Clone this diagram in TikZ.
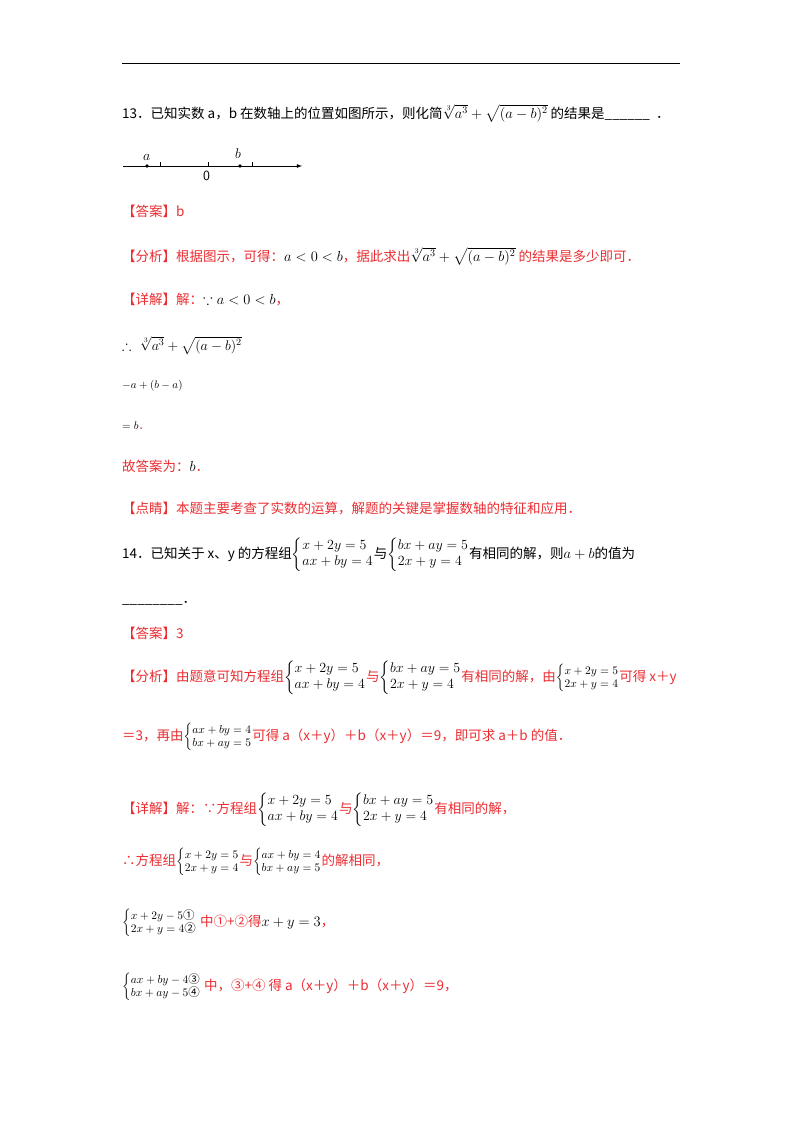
\RequirePackage{fix-cm}
\documentclass[tikz,border=0pt]{standalone}
\usepackage{amsmath,amssymb}
\usepackage{fontspec}
\newfontfamily\cjk{Noto Sans CJK SC}
\definecolor{rd}{RGB}{235,45,50}
\begin{document}
\begin{tikzpicture}[x=1pt,y=-1pt,
  t/.style={anchor=base west,inner sep=0pt,font=\cjk\fontsize{13.5}{16}\selectfont},
  r/.style={t,text=rd},
  sm/.style={anchor=base west,inner sep=0pt,font=\fontsize{14}{16}\selectfont}]
\useasboundingbox[fill=white] (0,0) rectangle (800,1132);
\draw[line width=1pt] (122,64) -- (680,64);
\newcommand\mth[1]{{\fontsize{14.5}{16}\selectfont$#1$}}
\newcommand\sys[2]{{\fontsize{14}{16}\selectfont$\left\{\begin{array}{@{}l@{}}#1\\#2\end{array}\right.$}}
\newcommand\smsys[2]{{\fontsize{11.5}{13}\selectfont$\left\{\begin{array}{@{}l@{}}#1\\#2\end{array}\right.$}}
\node[t] (q13) at (122,118) {13．已知实数 a，b 在数轴上的位置如图所示，则化简\mth{\sqrt[3]{a^3}+\sqrt{(a-b)^2}} 的结果是\_\_\_\_\_\_\ \ ．};
% number line
\coordinate (ls) at (123,166); \coordinate (le) at (302,166);
\draw[-latex,line width=0.8pt] (ls) -- (le);
\fill (147,166) circle (1.8) (240,166) circle (1.8);
\foreach \x in {160,208,252} \draw (\x,166) -- (\x,162);
\node[sm] (la) at (143,160) {$a$};
\node[sm] (lb) at (235,158) {$b$};
\node[sm] (l0) at (203,180) {\sffamily 0};
\node[r] (a13) at (122,216) {【答案】b};
\node[r] (f13) at (122,261) {【分析】根据图示，可得：\textcolor{black}{\mth{a<0<b}}，据此求出\textcolor{black}{\mth{\sqrt[3]{a^3}+\sqrt{(a-b)^2}}} 的结果是多少即可．};
\node[r] (x13) at (122,304) {【详解】解：\textcolor{black}{\mth{\because a<0<b}}，};
\node[sm] (s1) at (122,350) {$\therefore\ \sqrt[3]{a^3}+\sqrt{(a-b)^2}$};
\node[sm,font=\fontsize{11}{13}\selectfont] (s2) at (122,388) {$-a+(b-a)$};
\node[sm,font=\fontsize{11}{13}\selectfont] (s3) at (122,429) {$=b$\textcolor{rd}{\cjk．}};
\node[r] (g13) at (122,471) {故答案为：\textcolor{black}{\mth{b}}．};
\node[r] (d13) at (122,513) {【点睛】本题主要考查了实数的运算，解题的关键是掌握数轴的特征和应用．};
\node[t] (q14) at (122,558) {14．已知关于 x、y 的方程组\sys{x+2y=5}{ax+by=4}与\sys{bx+ay=5}{2x+y=4}有相同的解，则\mth{a+b}的值为};
\node[t] (q14b) at (122,603) {\_\_\_\_\_\_\_\_．};
\node[r] (a14) at (122,638) {【答案】3};
\node[r] (f14) at (122,681) {【分析】由题意可知方程组\textcolor{black}{\sys{x+2y=5}{ax+by=4}}与\textcolor{black}{\sys{bx+ay=5}{2x+y=4}}有相同的解，由\textcolor{black}{\smsys{x+2y=5}{2x+y=4}}可得 x＋y};
\node[r] (f14b) at (122,740) {＝3，再由\textcolor{black}{\smsys{ax+by=4}{bx+ay=5}}可得 a（x＋y）＋b（x＋y）＝9，即可求 a＋b 的值．};
\node[r] (x14) at (122,813) {【详解】解：∵方程组\textcolor{black}{\sys{x+2y=5}{ax+by=4}}与\textcolor{black}{\sys{bx+ay=5}{2x+y=4}}有相同的解，};
\node[r] (t14) at (122,865) {∴方程组\textcolor{black}{\smsys{x+2y=5}{2x+y=4}}与\textcolor{black}{\smsys{ax+by=4}{bx+ay=5}}的解相同，};
\node[r] (e1) at (122,926) {\textcolor{black}{\smsys{x+2y-5\text{①}}{2x+y=4\text{②}}} 中①+②得\textcolor{black}{\mth{x+y=3}}，};
\node[r] (e2) at (122,990) {\textcolor{black}{\smsys{ax+by-4\text{③}}{bx+ay-5\text{④}}} 中，③+④ 得 a（x＋y）＋b（x＋y）＝9，};
\end{tikzpicture}
\end{document}
